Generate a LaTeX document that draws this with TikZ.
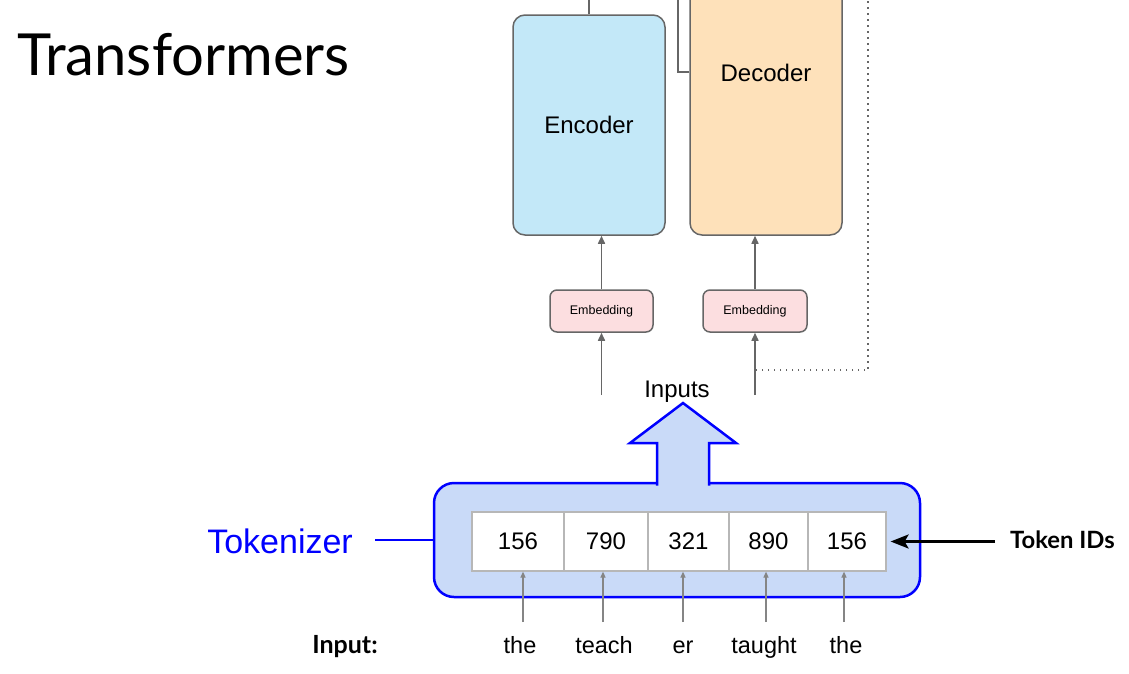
\documentclass[tikz,border=0pt]{standalone}
\usepackage{fontspec}
\setmainfont{Liberation Sans}
\newfontfamily\latofont{Lato}
\usetikzlibrary{arrows.meta}
\definecolor{encfill}{HTML}{C3E8F8}
\definecolor{decfill}{HTML}{FEE1BA}
\definecolor{embfill}{HTML}{FCDEE0}
\definecolor{boxline}{HTML}{666666}
\definecolor{tokfill}{HTML}{C9DAF8}
\definecolor{tokblue}{HTML}{0000FF}
\definecolor{cellline}{HTML}{B7B7B7}
\definecolor{smallarrow}{HTML}{858585}
\begin{document}
\begin{tikzpicture}[x=1pt,y=-1pt,
  bigbox/.style={draw=boxline, line width=1.5pt, rounded corners=12pt, minimum width=152pt, inner sep=0pt, font=\fontsize{24}{27}\selectfont},
  embbox/.style={draw=boxline, line width=1.5pt, rounded corners=7pt, fill=embfill, minimum height=42pt, inner sep=0pt, font=\fontsize{12.5}{14}\selectfont},
  flowarrow/.style={draw=boxline, line width=1.5pt, -{Triangle[length=8pt,width=7pt]}},
  cell/.style={draw=cellline, line width=1.2pt, fill=white, minimum height=59pt, inner sep=0pt, font=\fontsize{24}{28}\selectfont},
  word/.style={font=\fontsize{23.5}{26}\selectfont, anchor=base, inner sep=0pt},
  wordarrow/.style={draw=smallarrow, line width=1.2pt, -{Triangle[length=6pt,width=5pt]}},
  dotline/.style={draw=boxline, line width=1.5pt, dash pattern=on 1.5pt off 4.5pt}
]
\useasboundingbox (0,0) rectangle (1129,673);
\clip (0,0) rectangle (1129,673);

% title
\node[anchor=base west, inner sep=0pt, font=\latofont\fontsize{58}{64}\selectfont] (title) at (17,75) {Transformers};

% encoder / decoder
\node[bigbox, fill=encfill, minimum height=220pt] (enc) at (589,125) {Encoder};
\node[bigbox, fill=decfill, minimum height=324pt] (dec) at (766,73) {Decoder};
\coordinate (enctop) at (589,-5);
\draw[draw=boxline, line width=1.5pt] (enc.north) -- (enctop);
\coordinate (decbend) at (678,72);
\coordinate (dectop) at (678,-5);
\draw[draw=boxline, line width=1.5pt] (dec.west |- decbend) -- (decbend) -- (dectop);

% embeddings
\node[embbox, minimum width=103pt] (embE) at (601.5,311) {Embedding};
\node[embbox, minimum width=104pt] (embD) at (755,311) {Embedding};
\draw[flowarrow] (embE.north) -- (embE.north |- enc.south);
\draw[flowarrow] (embD.north) -- (embD.north |- dec.south);
\coordinate (inE) at (601.5,395);
\coordinate (inD) at (755,395);
\draw[flowarrow] (inE) -- (embE.south);
\draw[flowarrow] (inD) -- (embD.south);

% dotted feedback
\coordinate (dtop) at (868,-5);
\coordinate (dcorner) at (868,370);
\coordinate (djoin) at (755,370);
\draw[dotline] (dtop) -- (dcorner) -- (djoin);

% Inputs label
\node[anchor=base, inner sep=0pt, font=\fontsize{24}{27}\selectfont] (inputs) at (677,397) {Inputs};

% tokenizer box
\node[draw=tokblue, line width=2.5pt, fill=tokfill, rounded corners=20pt, minimum width=486pt, minimum height=114pt, inner sep=0pt] (tok) at (677,540) {};
\path[fill=tokfill, draw=tokblue, line width=2.5pt, line join=miter]
  (657,485.5) -- (657,443) -- (630,443) -- (683,403) -- (736,443) -- (709,443) -- (709,485.5);

% cells
\node[cell, minimum width=92pt] (c1) at (518,541.5) {156};
\node[cell, minimum width=84pt] (c2) at (606,541.5) {790};
\node[cell, minimum width=81pt] (c3) at (688.5,541.5) {321};
\node[cell, minimum width=79pt] (c4) at (768.5,541.5) {890};
\node[cell, minimum width=78pt] (c5) at (847,541.5) {156};

% tokenizer label
\node[anchor=base east, inner sep=0pt, text=tokblue, font=\fontsize{34}{38}\selectfont] (toklabel) at (353,553) {Tokenizer};
\draw[draw=tokblue, line width=2pt] ([xshift=22pt]toklabel.east |- tok.west) -- (tok.west);

% Token IDs
\node[anchor=base west, inner sep=0pt, font=\latofont\bfseries\fontsize{23.8}{27}\selectfont] (tid) at (1010,548) {Token IDs};
\draw[line width=2.5pt, -{Stealth[length=18pt,width=14pt,inset=4pt]}] ([xshift=-15pt]tid.west |- c5.east) -- ([xshift=4pt]c5.east);

% input words
\node[anchor=base, inner sep=0pt, font=\latofont\bfseries\fontsize{25}{28}\selectfont] (inlabel) at (345,653) {Input:};
\node[word] (w1) at (520,653) {the};
\node[word] (w2) at (604,653) {teach};
\node[word] (w3) at (683,653) {er};
\node[word] (w4) at (764,653) {taught};
\node[word] (w5) at (846,653) {the};
\foreach \i/\x in {1/523,2/603,3/683,4/766,5/844}{
  \coordinate (ws\i) at (\x,622);
  \draw[wordarrow] (ws\i) -- (ws\i |- c\i.south);
}
\end{tikzpicture}
\end{document}
